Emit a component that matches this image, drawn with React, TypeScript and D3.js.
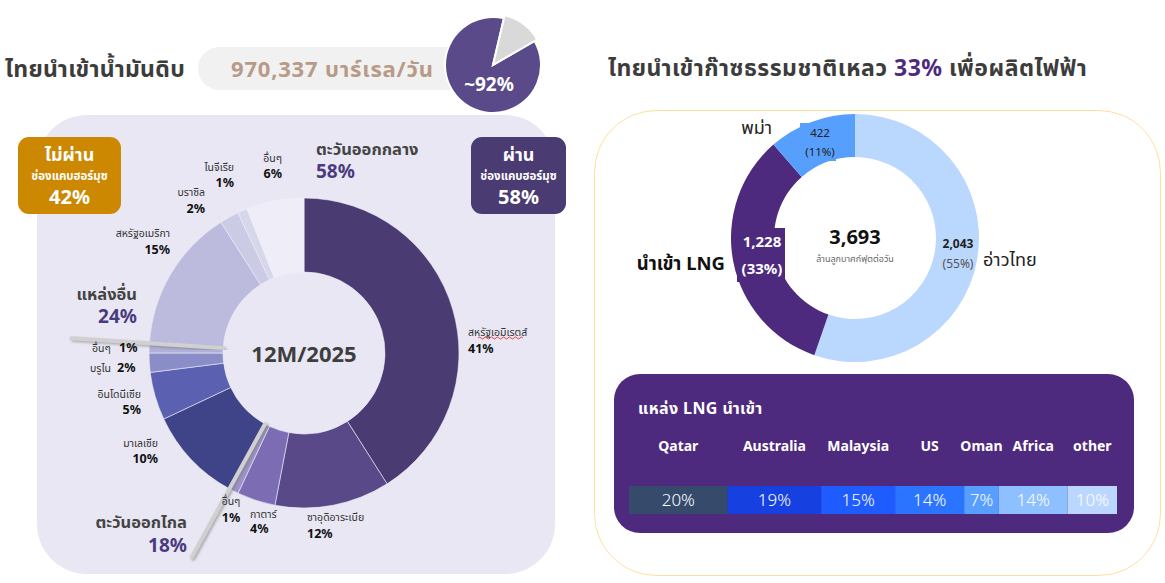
import React, { useEffect } from 'react';
import * as d3 from 'd3';

// ---------- data ----------
const crudeTitle = 'ไทยนำเข้าน้ำมันดิบ';
const crudeVolume = '970,337 บาร์เรล/วัน';
const topPieLabel = '~92%';
const topPieValues = [87, 13];

const crudeCountries = ['สหรัฐเอมิเรตส์', 'ซาอุดิอาระเบีย', 'กาตาร์', 'อื่นๆ', 'มาเลเซีย', 'อินโดนีเซีย', 'บรูไน', 'อื่นๆ', 'สหรัฐอเมริกา', 'บราซิล', 'ไนจีเรีย', 'อื่นๆ'];
const crudeShares = [41, 12, 4, 1, 10, 5, 2, 1, 15, 2, 1, 6];
const crudeRegions = ['ตะวันออกกลาง', 'ตะวันออกไกล', 'แหล่งอื่น'];
const crudeRegionShares = [58, 18, 24];
const crudeCenterLabel = '12M/2025';
const hormuzLabels = ['ไม่ผ่าน', 'ผ่าน'];
const hormuzShares = [42, 58];

const gasTitleA = 'ไทยนำเข้าก๊าซธรรมชาติเหลว ';
const gasTitleB = '33%';
const gasTitleC = ' เพื่อผลิตไฟฟ้า';
const gasSources = ['อ่าวไทย', 'นำเข้า LNG', 'พม่า'];
const gasValues = [2043, 1228, 422];
const gasPcts = [55, 33, 11];
const gasTotal = 3693;
const gasUnit = 'ล้านลูกบาศก์ฟุตต่อวัน';

const lngTitle = 'แหล่ง LNG นำเข้า';
const lngCountries = ['Qatar', 'Australia', 'Malaysia', 'US', 'Oman', 'Africa', 'other'];
const lngShares = [20, 19, 15, 14, 7, 14, 10];

// ---------- styles / layout ----------
const crudeColors = ['#4a3b73', '#594989', '#7b6cb3', '#9d92ca', '#3f4388', '#5b60b0', '#8b8dc8', '#b0b0d9', '#bcbbde', '#cbcbe5', '#d7d7eb', '#efeef8'];
const gasColors = ['#bad7fe', '#4e2a7e', '#579ffc'];
const lngColors = ['#364b6b', '#1740e0', '#1f5cff', '#2b74ff', '#589eff', '#8ec0ff', '#bcd7ff'];
const FONT = "'Noto Sans', 'Noto Sans Thai', Tahoma, 'DejaVu Sans', sans-serif";

// label anchors for left donut [x, y(name baseline), y(pct baseline), anchor, inline]
const crudeLabelPos: [number, number, number, string, boolean][] = [
  [468, 336, 353, 'start', false],
  [307, 521, 538, 'start', false],
  [250, 518, 533, 'start', false],
  [231, 505, 522, 'middle', false],
  [158, 447, 463, 'end', false],
  [141, 398, 414, 'end', false],
  [90, 372, 372, 'start', true],
  [92, 352, 352, 'start', true],
  [170, 237, 254, 'end', false],
  [205, 196, 213, 'end', false],
  [234, 171, 187, 'end', false],
  [282, 162, 178, 'end', false],
];
const regionLabelPos: [number, number, number, string][] = [
  [316, 155, 178, 'start'],
  [187, 528, 552, 'end'],
  [137, 300, 323, 'end'],
];

export default function App() {
  useEffect(() => {
    document.body.style.margin = '0';
  }, []);

  // top pie
  const topPie = d3.pie<number>().sort(null).startAngle((60 * Math.PI) / 180).endAngle((60 * Math.PI) / 180 + 2 * Math.PI)(topPieValues);
  const topArc = d3.arc<d3.PieArcDatum<number>>().innerRadius(0);

  // left donut
  const cx = 304, cy = 353;
  const crudePie = d3.pie<number>().sort(null)(crudeShares);
  const crudeArc = d3.arc<d3.PieArcDatum<number>>().innerRadius(81).outerRadius(155);
  const cum = d3.cumsum(crudeRegionShares);
  const sepAngles = [0, ...cum.slice(0, 2)].map((v) => (v / 100) * 2 * Math.PI);
  const sepLen = [213, 233, 233];

  // right donut
  const gx = 855, gy = 238;
  const gasPie = d3.pie<number>().sort(null)(gasValues);
  const gasArc = d3.arc<d3.PieArcDatum<number>>().innerRadius(81).outerRadius(124);

  // LNG bar
  const lx = d3.scaleLinear().domain([0, d3.sum(lngShares)]).range([629, 1117]);
  const lngCum = [0, ...d3.cumsum(lngShares)];

  const fmt = d3.format(',');

  return (
    <svg width={1165} height={583} style={{ display: 'block', fontFamily: FONT }}>
      <defs>
        <filter id="sh" x="-20%" y="-20%" width="140%" height="140%">
          <feDropShadow dx="1.5" dy="1.5" stdDeviation="1.2" floodColor="#777" floodOpacity="0.55" />
        </filter>
      </defs>
      <rect width={1165} height={583} fill="#ffffff" />

      {/* ---------- LEFT ---------- */}
      <text x={5} y={77} fontSize={23} fontWeight={700} letterSpacing={0.3} fill="#3c3c3c">{crudeTitle}</text>
      <rect x={198} y={47} width={290} height={43} rx={21.5} fill="#f1f1f1" />
      <text x={231} y={77} fontSize={22} fontWeight={700} letterSpacing={0.8} fill="#b89a88">{crudeVolume}</text>
      <g transform="translate(493,65)">
        {topPie.map((d, i) => (
          <path key={i} d={topArc.outerRadius(i === 0 ? 48 : 51)(d) as string} fill={i === 0 ? '#5a4a8a' : '#d9d9d9'} stroke="#fff" strokeWidth={2} />
        ))}
        <text x={-4} y={26} textAnchor="middle" fontSize={19} fontWeight={700} fill="#fff">{topPieLabel}</text>
      </g>

      <rect x={37} y={115} width={518} height={459} rx={50} fill="#e8e7f3" />

      <g transform={`translate(${cx},${cy})`}>
        {crudePie.map((d, i) => (
          <path key={i} d={crudeArc(d) as string} fill={crudeColors[i]} stroke="#efeef8" strokeWidth={0.6} />
        ))}
        <text y={9} textAnchor="middle" fontSize={22} fontWeight={700} fill="#3e3e3e">{crudeCenterLabel}</text>
        {sepAngles.map((a, i) => (
          <line key={i} x1={Math.sin(a) * 81} y1={-Math.cos(a) * 81} x2={Math.sin(a) * sepLen[i]} y2={-Math.cos(a) * sepLen[i]}
            stroke="#d0d0d0" strokeWidth={4} strokeLinecap="round" filter="url(#sh)" />
        ))}
      </g>

      {crudeCountries.map((c, i) => {
        const [x, y1, y2, anchor, inline] = crudeLabelPos[i];
        if (inline) {
          return (
            <g key={i}>
              <text x={x} y={y1} fontSize={10.5} fill="#333">{c}</text>
              <text x={x + 27} y={y1} fontSize={12.5} fontWeight={700} fill="#111">{crudeShares[i]}%</text>
            </g>
          );
        }
        return (
          <g key={i} textAnchor={anchor}>
            <text x={x} y={y1} fontSize={10.5} fill="#333">{c}</text>
            <text x={x} y={y2} fontSize={12.5} fontWeight={700} fill="#111">{crudeShares[i]}%</text>
          </g>
        );
      })}
      <path d="M478,338 q1.5,-2 3,0 t3,0 t3,0 t3,0 t3,0 t3,0 t3,0 t3,0 t3,0 t3,0 t3,0 t3,0 t3,0 t3,0 t3,0" fill="none" stroke="#e03030" strokeWidth={0.9} />

      {crudeRegions.map((r, i) => {
        const [x, y1, y2, anchor] = regionLabelPos[i];
        return (
          <g key={i} textAnchor={anchor}>
            <text x={x} y={y1} fontSize={16.5} fontWeight={700} fill="#444">{r}</text>
            <text x={x} y={y2} fontSize={19} fontWeight={700} fill="#4a3b80">{crudeRegionShares[i]}%</text>
          </g>
        );
      })}

      {hormuzLabels.map((h, i) => {
        const bx = i === 0 ? 18 : 471;
        const bw = i === 0 ? 103 : 95;
        const mx = bx + bw / 2;
        return (
          <g key={i}>
            <rect x={bx} y={137} width={bw} height={77} rx={11} fill={i === 0 ? '#cc8800' : '#4a3b73'} />
            <text x={mx} y={161} textAnchor="middle" fontSize={18} fontWeight={700} fill="#fff">{h}</text>
            <text x={mx} y={180} textAnchor="middle" fontSize={11.5} fontWeight={700} fill="#fff">ช่องแคบฮอร์มุซ</text>
            <text x={mx} y={204} textAnchor="middle" fontSize={20} fontWeight={700} fill="#fff">{hormuzShares[i]}%</text>
          </g>
        );
      })}

      {/* ---------- RIGHT ---------- */}
      <text x={608} y={76} fontSize={23} fontWeight={700} letterSpacing={0.5} fill="#3c3c3c">
        {gasTitleA}<tspan fill="#4e2a7e">{gasTitleB}</tspan>{gasTitleC}
      </text>
      <rect x={594.5} y={110.5} width={566} height={465} rx={62} fill="none" stroke="#ffe09a" strokeWidth={1} />

      <g transform={`translate(${gx},${gy})`}>
        {gasPie.map((d, i) => (
          <path key={i} d={gasArc(d) as string} fill={gasColors[i]} />
        ))}
        <text y={6} textAnchor="middle" fontSize={20} fontWeight={700} fill="#111">{fmt(gasTotal)}</text>
        <text y={24} textAnchor="middle" fontSize={9} fill="#666">{gasUnit}</text>
      </g>
      {/* อ่าวไทย */}
      <text x={958} y={248} textAnchor="middle" fontSize={12} fontWeight={700} fill="#222">{fmt(gasValues[0])}</text>
      <text x={958} y={268} textAnchor="middle" fontSize={12} fill="#555">({gasPcts[0]}%)</text>
      <text x={983} y={266} fontSize={18} fill="#222">{gasSources[0]}</text>
      {/* LNG */}
      <rect x={737} y={228} width={48} height={54} fill={gasColors[1]} />
      <text x={762} y={247} textAnchor="middle" fontSize={15} fontWeight={700} fill="#fff">{fmt(gasValues[1])}</text>
      <text x={762} y={274} textAnchor="middle" fontSize={15} fontWeight={700} fill="#fff">({gasPcts[1]}%)</text>
      <text x={725} y={270} textAnchor="end" fontSize={18.5} fontWeight={700} fill="#111">{gasSources[1]}</text>
      {/* พม่า */}
      <rect x={800} y={123} width={36} height={38} fill={gasColors[2]} />
      <text x={820} y={137} textAnchor="middle" fontSize={11.5} fill="#222">{gasValues[2]}</text>
      <text x={820} y={156} textAnchor="middle" fontSize={11.5} fill="#222">({gasPcts[2]}%)</text>
      <text x={772} y={134} textAnchor="end" fontSize={18} fill="#222">{gasSources[2]}</text>

      {/* LNG sources box */}
      <rect x={614} y={374} width={520} height={159} rx={26} fill="#4e2a7e" />
      <text x={638} y={414} fontSize={16} fontWeight={700} letterSpacing={0.4} fill="#fff">{lngTitle}</text>
      {lngCountries.map((c, i) => {
        const x0 = lx(lngCum[i]);
        const x1 = lx(lngCum[i + 1]);
        const mx = (x0 + x1) / 2;
        return (
          <g key={c}>
            <text x={mx} y={451} textAnchor="middle" fontSize={14} fontWeight={700} fill="#fff">{c}</text>
            <rect x={x0} y={486} width={x1 - x0} height={28} fill={lngColors[i]} />
            <text x={mx} y={506} textAnchor="middle" fontSize={17} fontWeight={300} fill="#fff">{lngShares[i]}%</text>
          </g>
        );
      })}
    </svg>
  );
}
